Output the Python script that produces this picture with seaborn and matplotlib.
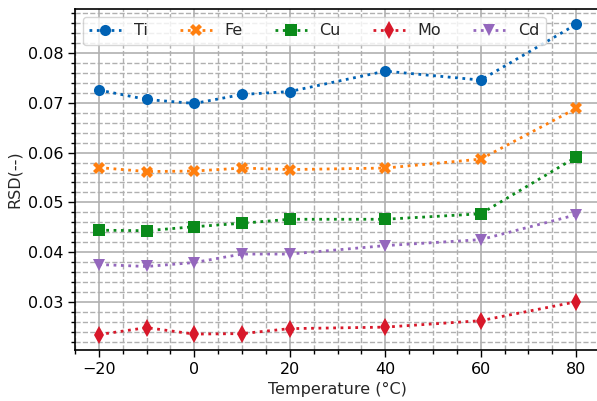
import numpy as np
import pandas as pd
import matplotlib
matplotlib.use("Agg")
import matplotlib.pyplot as plt
import seaborn as sns
from matplotlib.ticker import MultipleLocator

temps = [-20, -10, 0, 10, 20, 40, 60, 80]
ti = [0.0726, 0.0707, 0.0699, 0.0717, 0.0723, 0.0764, 0.0746, 0.0858]
fe = [0.0570, 0.0562, 0.0563, 0.0569, 0.0566, 0.0569, 0.0587, 0.0689]
cu = [0.0444, 0.0443, 0.0451, 0.0458, 0.0466, 0.0466, 0.0477, 0.0591]
mo = [0.0234, 0.0248, 0.0235, 0.0236, 0.0246, 0.0249, 0.0262, 0.0300]
cd = [0.0375, 0.0371, 0.0379, 0.0396, 0.0396, 0.0413, 0.0425, 0.0475]

names = ["Ti", "Fe", "Cu", "Mo", "Cd"]
series = [ti, fe, cu, mo, cd]
colors = ["#0062b4", "#ff7f0e", "#0a8a1a", "#d8182a", "#9467bd"]
markers = ["o", "X", "s", "d", "v"]

sns.set_style("white")
plt.rcParams["font.family"] = ["DejaVu Sans"]

fig = plt.figure(figsize=(5.97, 4.01), dpi=100)
ax = fig.add_axes([75 / 597, 51 / 401, (600 - 75) / 597, (350 - 9) / 401])

for name, vals, c, m in zip(names, series, colors, markers):
    df = pd.DataFrame({"T": temps, "RSD": vals})
    sns.lineplot(data=df, x="T", y="RSD", ax=ax, color=c, marker=m,
                 markersize=8 if m != "d" else 9, markeredgewidth=0,
                 linestyle=":", linewidth=2, label=name)

ax.xaxis.set_major_locator(MultipleLocator(20))
ax.xaxis.set_minor_locator(MultipleLocator(5))
ax.yaxis.set_major_locator(MultipleLocator(0.01))
ax.yaxis.set_minor_locator(MultipleLocator(0.002))
ax.grid(which="major", color="#b0b0b0", linestyle="-", linewidth=1.2)
ax.grid(which="minor", color="#b0b0b0", linestyle="--", linewidth=1.0)
ax.set_axisbelow(True)
for s in ax.spines.values():
    s.set_color("black")
    s.set_linewidth(1.2)
ax.tick_params(which="both", direction="out", left=True, bottom=True,
               labelsize=11.5, colors="black")
ax.tick_params(which="major", length=5, width=1)
ax.tick_params(which="minor", length=3, width=1)
ax.set_xlabel("Temperature (°C)", fontsize=11.5)
ax.set_ylabel("RSD(--)", fontsize=11.5)
ax.set_xlim(-25, 85)
ax.set_ylim(0.0203, 0.0889)
leg = ax.legend(loc="upper left", ncol=5, fontsize=11.5, frameon=True,
                framealpha=0.8, borderaxespad=0.5, columnspacing=2.0)
leg.get_frame().set_edgecolor("#cccccc")

fig.savefig("out.png", dpi=100)
